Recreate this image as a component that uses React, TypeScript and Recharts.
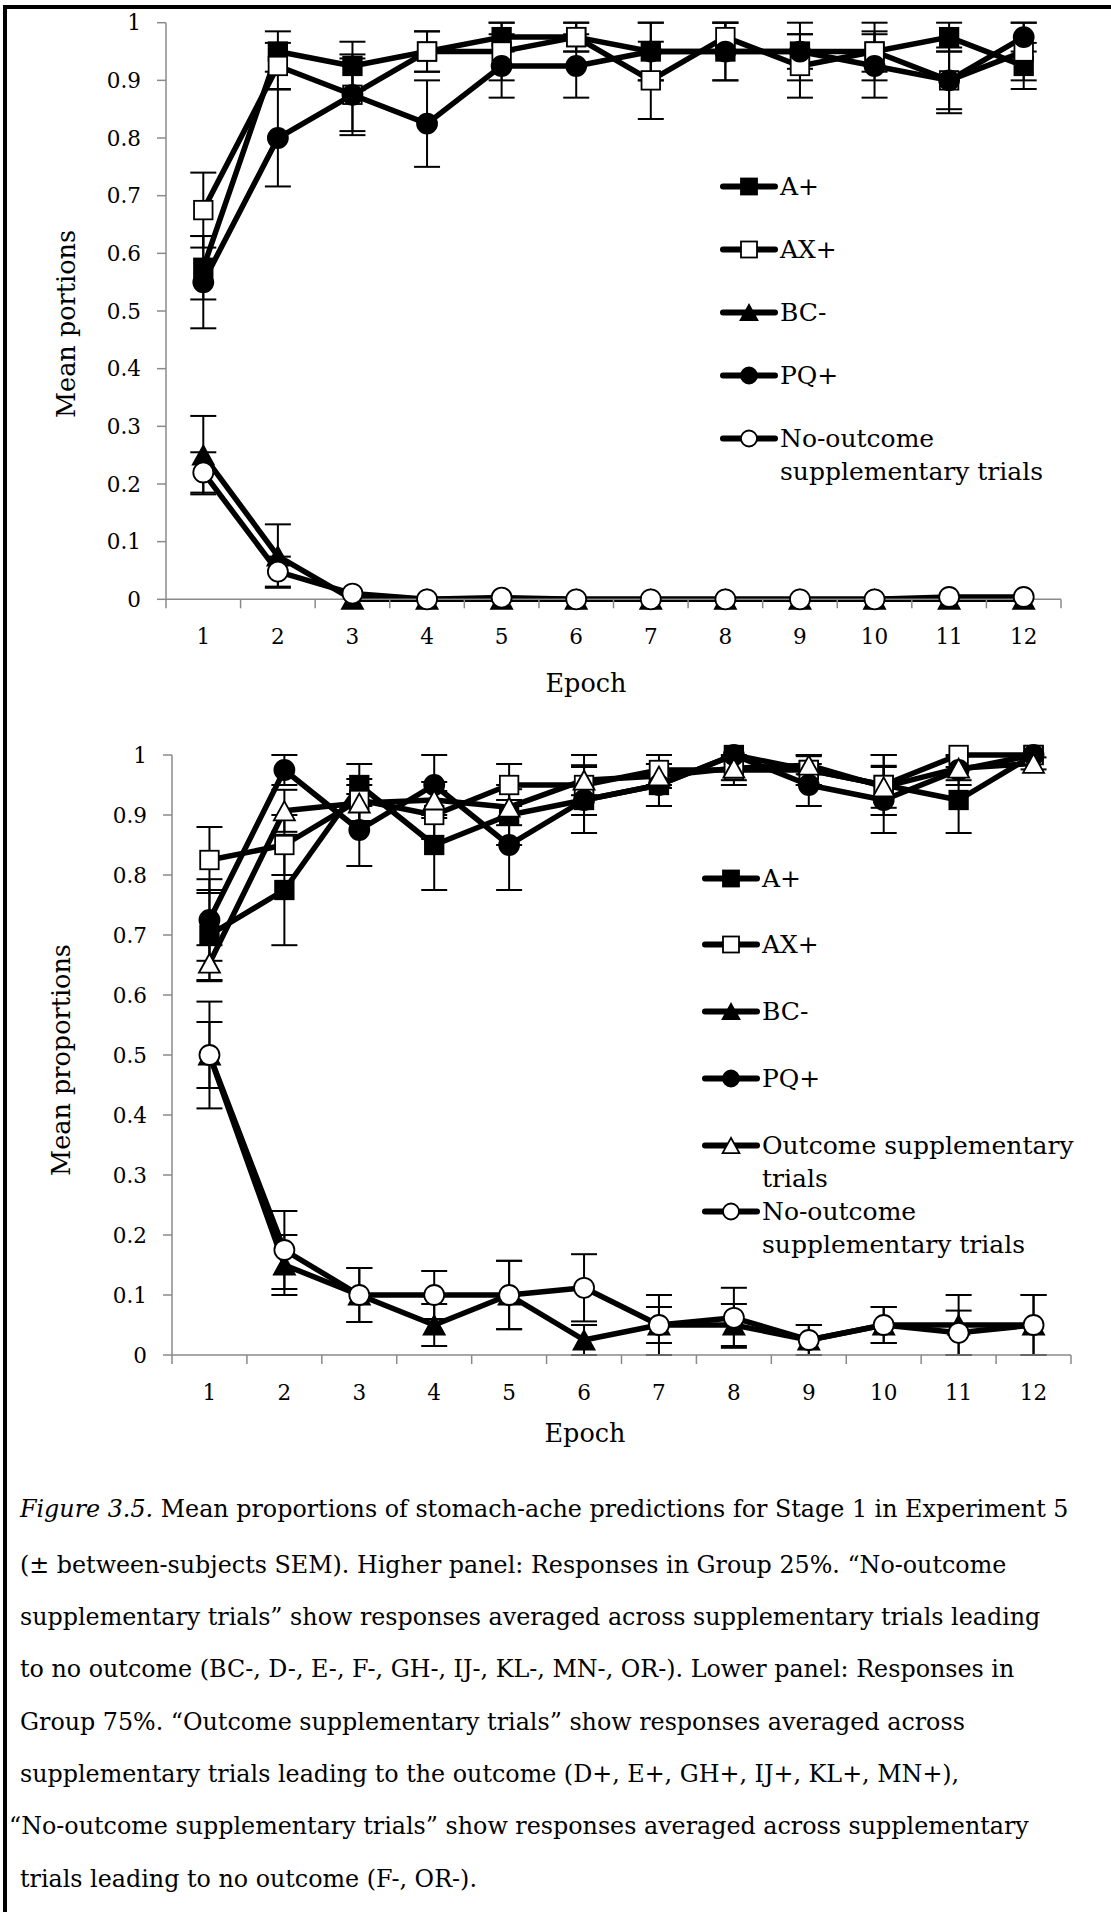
import React from 'react';
import { LineChart, Line, XAxis, YAxis, ErrorBar, Legend } from 'recharts';

const FONT = '"DejaVu Serif", serif';
const AXIS = '#8a8a8a';

const epochs = [1, 2, 3, 4, 5, 6, 7, 8, 9, 10, 11, 12];
const yTicks = [0, 0.1, 0.2, 0.3, 0.4, 0.5, 0.6, 0.7, 0.8, 0.9, 1];

// ---- Higher panel: Group 25% ----
const topAPlus = [0.575, 0.95, 0.925, 0.95, 0.975, 0.975, 0.95, 0.95, 0.95, 0.95, 0.975, 0.925];
const topAPlusErr = [0.055, 0.035, 0.042, 0.035, 0.025, 0.025, 0.05, 0.05, 0.05, 0.035, 0.025, 0.04];
const topAXPlus = [0.675, 0.925, 0.875, 0.95, 0.95, 0.975, 0.9, 0.975, 0.925, 0.95, 0.9, 0.95];
const topAXPlusErr = [0.065, 0.04, 0.07, 0.035, 0.05, 0.025, 0.067, 0.025, 0.055, 0.05, 0.05, 0.05];
const topBCMinus = [0.25, 0.075, 0, 0, 0, 0, 0, 0, 0, 0, 0, 0];
const topBCMinusErr = [0.068, 0.055, 0, 0, 0, 0, 0, 0, 0, 0, 0, 0];
const topPQPlus = [0.55, 0.8, 0.875, 0.825, 0.925, 0.925, 0.95, 0.95, 0.95, 0.925, 0.9, 0.975];
const topPQPlusErr = [0.08, 0.084, 0.063, 0.075, 0.055, 0.055, 0.05, 0.05, 0.03, 0.055, 0.057, 0.025];
const topNoOutcome = [0.22, 0.048, 0.01, 0, 0.003, 0, 0, 0, 0, 0, 0.004, 0.004];
const topNoOutcomeErr = [0.035, 0.026, 0, 0, 0, 0, 0, 0, 0, 0, 0, 0];

// ---- Lower panel: Group 75% ----
const botAPlus = [0.7, 0.775, 0.95, 0.85, 0.9, 0.925, 0.95, 1, 0.975, 0.95, 0.925, 1];
const botAPlusErr = [0.075, 0.092, 0.035, 0.075, 0.05, 0.055, 0.035, 0, 0.025, 0.05, 0.055, 0];
const botAXPlus = [0.825, 0.85, 0.925, 0.9, 0.95, 0.95, 0.975, 0.975, 0.975, 0.95, 1, 1];
const botAXPlusErr = [0.055, 0.05, 0.035, 0.04, 0.035, 0.05, 0.025, 0.025, 0.025, 0.05, 0, 0];
const botBCMinus = [0.5, 0.15, 0.1, 0.05, 0.1, 0.025, 0.05, 0.05, 0.025, 0.05, 0.05, 0.05];
const botBCMinusErr = [0.055, 0.05, 0.045, 0.035, 0.057, 0.025, 0.03, 0.035, 0.025, 0.03, 0.05, 0.05];
const botPQPlus = [0.725, 0.975, 0.875, 0.95, 0.85, 0.925, 0.95, 1, 0.95, 0.925, 0.975, 1];
const botPQPlusErr = [0.068, 0.025, 0.06, 0.05, 0.075, 0.055, 0.035, 0, 0.035, 0.055, 0.025, 0];
const botOutcome = [0.653, 0.907, 0.92, 0.925, 0.913, 0.958, 0.965, 0.978, 0.983, 0.947, 0.978, 0.986];
const botOutcomeErr = [0.03, 0.035, 0.03, 0.03, 0.03, 0.025, 0.02, 0.02, 0.015, 0.035, 0.02, 0.01];
const botNoOutcome = [0.5, 0.175, 0.1, 0.1, 0.1, 0.112, 0.05, 0.062, 0.025, 0.05, 0.037, 0.05];
const botNoOutcomeErr = [0.089, 0.065, 0.045, 0.04, 0.057, 0.056, 0.05, 0.05, 0.025, 0.03, 0.037, 0.05];

type Shape = 'square' | 'circle' | 'triangle';
interface SeriesDef {
  key: string;
  lines: string[];
  shape: Shape;
  filled: boolean;
  values: number[];
  errors: number[];
}

const topSeries: SeriesDef[] = [
  { key: 'aPlus', lines: ['A+'], shape: 'square', filled: true, values: topAPlus, errors: topAPlusErr },
  { key: 'axPlus', lines: ['AX+'], shape: 'square', filled: false, values: topAXPlus, errors: topAXPlusErr },
  { key: 'bcMinus', lines: ['BC-'], shape: 'triangle', filled: true, values: topBCMinus, errors: topBCMinusErr },
  { key: 'pqPlus', lines: ['PQ+'], shape: 'circle', filled: true, values: topPQPlus, errors: topPQPlusErr },
  { key: 'noOutcome', lines: ['No-outcome', 'supplementary trials'], shape: 'circle', filled: false, values: topNoOutcome, errors: topNoOutcomeErr },
];

const botSeries: SeriesDef[] = [
  { key: 'aPlus', lines: ['A+'], shape: 'square', filled: true, values: botAPlus, errors: botAPlusErr },
  { key: 'axPlus', lines: ['AX+'], shape: 'square', filled: false, values: botAXPlus, errors: botAXPlusErr },
  { key: 'bcMinus', lines: ['BC-'], shape: 'triangle', filled: true, values: botBCMinus, errors: botBCMinusErr },
  { key: 'pqPlus', lines: ['PQ+'], shape: 'circle', filled: true, values: botPQPlus, errors: botPQPlusErr },
  { key: 'outcome', lines: ['Outcome supplementary', 'trials'], shape: 'triangle', filled: false, values: botOutcome, errors: botOutcomeErr },
  { key: 'noOutcome', lines: ['No-outcome', 'supplementary trials'], shape: 'circle', filled: false, values: botNoOutcome, errors: botNoOutcomeErr },
];

const captionLines: { text: React.ReactNode; indent: number }[] = [
  { text: <><i>Figure 3.5.</i> Mean proportions of stomach-ache predictions for Stage 1 in Experiment 5</>, indent: 20 },
  { text: '(± between-subjects SEM). Higher panel: Responses in Group 25%. “No-outcome', indent: 20 },
  { text: 'supplementary trials” show responses averaged across supplementary trials leading', indent: 20 },
  { text: 'to no outcome (BC-, D-, E-, F-, GH-, IJ-, KL-, MN-, OR-). Lower panel: Responses in', indent: 20 },
  { text: 'Group 75%. “Outcome supplementary trials” show responses averaged across', indent: 20 },
  { text: 'supplementary trials leading to the outcome (D+, E+, GH+, IJ+, KL+, MN+),', indent: 20 },
  { text: '“No-outcome supplementary trials” show responses averaged across supplementary', indent: 9 },
  { text: 'trials leading to no outcome (F-, OR-).', indent: 20 },
];
const captionCenters = [1509, 1565, 1617, 1669, 1722, 1774, 1826, 1879];

function buildRows(series: SeriesDef[]) {
  return epochs.map((e, i) => {
    const row: Record<string, number> = { epoch: e };
    series.forEach((s) => {
      row[s.key] = s.values[i];
      row[s.key + 'Err'] = s.errors[i];
    });
    return row;
  });
}

function Marker({ cx, cy, shape, filled, size }: { cx: number; cy: number; shape: Shape; filled: boolean; size: number }) {
  const fill = filled ? '#000' : '#fff';
  const sw = 1.8;
  if (shape === 'square') {
    return <rect x={cx - size / 2} y={cy - size / 2} width={size} height={size} fill={fill} stroke="#000" strokeWidth={sw} />;
  }
  if (shape === 'circle') {
    return <circle cx={cx} cy={cy} r={size / 2} fill={fill} stroke="#000" strokeWidth={sw} />;
  }
  const w = size * 1.05;
  const h = size * 0.95;
  const pts = `${cx},${cy - h / 2} ${cx - w / 2},${cy + h / 2} ${cx + w / 2},${cy + h / 2}`;
  return <polygon points={pts} fill={fill} stroke="#000" strokeWidth={sw} strokeLinejoin="miter" />;
}

function RotLabel({ cx, cy, text, size }: { cx: number; cy: number; text: string; size: number }) {
  return (
    <text x={cx} y={cy} transform={`rotate(-90 ${cx} ${cy})`} textAnchor="middle" dominantBaseline="central"
      fontFamily={FONT} fontSize={size} fill="#000">
      {text}
    </text>
  );
}

function PlainLabel({ cx, cy, text, size }: { cx: number; cy: number; text: string; size: number }) {
  return (
    <text x={cx} y={cy} textAnchor="middle" dominantBaseline="central" fontFamily={FONT} fontSize={size} fill="#000">
      {text}
    </text>
  );
}

function LegendBox({ series, rowH, markerSize }: { series: SeriesDef[]; rowH: number; markerSize: number }) {
  const lineH = 33;
  return (
    <div style={{ fontFamily: FONT, fontSize: 25, color: '#000' }}>
      {series.map((s) => (
        <div key={s.key} style={{ position: 'relative', height: rowH, whiteSpace: 'nowrap' }}>
          <svg width={60} height={lineH} style={{ position: 'absolute', left: 0, top: 0 }}>
            <line x1={4} x2={56} y1={lineH / 2} y2={lineH / 2} stroke="#000" strokeWidth={6} strokeLinecap="round" />
            <Marker cx={30} cy={lineH / 2} shape={s.shape} filled={s.filled} size={markerSize} />
          </svg>
          <div style={{ position: 'absolute', left: 61, top: 0, lineHeight: `${lineH}px` }}>
            {s.lines.map((l, i) => (
              <div key={i}>{l}</div>
            ))}
          </div>
        </div>
      ))}
    </div>
  );
}

interface PanelProps {
  series: SeriesDef[];
  top: number;
  width: number;
  height: number;
  marginTop: number;
  marginRight: number;
  yAxisWidth: number;
  xAxisHeight: number;
  yLabel: string;
  yLabelPos: [number, number];
  xLabelPos: [number, number];
  legendPos: [number, number];
  legendRowH: number;
}

function Panel(p: PanelProps) {
  const data = buildRows(p.series);
  const plotBottom = p.height - p.xAxisHeight;
  const plotWidth = p.width - p.marginRight - p.yAxisWidth;
  const band = plotWidth / epochs.length;
  const lastEpoch = epochs[epochs.length - 1];

  const XTick = (props: any) => {
    const { x, payload } = props;
    return (
      <g>
        <line x1={x - band / 2} x2={x - band / 2} y1={plotBottom} y2={plotBottom + 9} stroke={AXIS} strokeWidth={1.5} />
        {payload.value === lastEpoch && (
          <line x1={x + band / 2} x2={x + band / 2} y1={plotBottom} y2={plotBottom + 9} stroke={AXIS} strokeWidth={1.5} />
        )}
        <text x={x} y={plotBottom + 37} textAnchor="middle" dominantBaseline="central" fontFamily={FONT} fontSize={21.5} fill="#000">
          {payload.value}
        </text>
      </g>
    );
  };

  return (
    <div style={{ position: 'absolute', left: 0, top: p.top, width: p.width, height: p.height }}>
      <LineChart width={p.width} height={p.height} data={data}
        margin={{ top: p.marginTop, right: p.marginRight, bottom: 0, left: 0 }}>
        <XAxis dataKey="epoch" type="number" domain={[0.5, 12.5]} ticks={epochs} interval={0}
          height={p.xAxisHeight} tickLine={false} axisLine={{ stroke: AXIS, strokeWidth: 1.5 }}
          tick={XTick}
          label={<PlainLabel cx={p.xLabelPos[0]} cy={p.xLabelPos[1]} text="Epoch" size={25.5} />} />
        <YAxis type="number" domain={[0, 1]} ticks={yTicks} interval={0} width={p.yAxisWidth}
          tickSize={9} tickMargin={16}
          tickLine={{ stroke: AXIS, strokeWidth: 1.5 }} axisLine={{ stroke: AXIS, strokeWidth: 1.5 }}
          tick={{ fill: '#000', fontSize: 21.5, fontFamily: FONT }}
          tickFormatter={(v: number) => String(v)}
          label={<RotLabel cx={p.yLabelPos[0]} cy={p.yLabelPos[1]} text={p.yLabel} size={25.5} />} />
        <Legend layout="vertical" align="center" verticalAlign="middle"
          wrapperStyle={{ left: p.legendPos[0], top: p.legendPos[1], width: 420 }}
          content={() => <LegendBox series={p.series} rowH={p.legendRowH} markerSize={16} />} />
        {p.series.map((s) => (
          <Line key={s.key} type="linear" dataKey={s.key} stroke="#000" strokeWidth={5.5}
            strokeLinejoin="round" isAnimationActive={false} activeDot={false} legendType="none"
            dot={(dp: any) => (
              <Marker key={`${s.key}-${dp.index}`} cx={dp.cx} cy={dp.cy} shape={s.shape} filled={s.filled}
                size={s.shape === 'square' ? 18.5 : 20} />
            )}>
            <ErrorBar dataKey={s.key + 'Err'} width={13} strokeWidth={2} stroke="#000" direction="y" />
          </Line>
        ))}
      </LineChart>
    </div>
  );
}

export default function App() {
  return (
    <div style={{ position: 'absolute', left: 0, top: 0, width: 1111, height: 1912, background: '#fff', overflow: 'hidden' }}>
      <div style={{ position: 'absolute', left: 3, top: 5, width: 1108, height: 1907, borderLeft: '4px solid #000', borderTop: '4px solid #000', boxSizing: 'border-box' }} />
      <Panel series={topSeries} top={0} width={1111} height={720} marginTop={22.7} marginRight={50}
        yAxisWidth={166} xAxisHeight={120.7} yLabel="Mean portions" yLabelPos={[66, 324]}
        xLabelPos={[586, 683]} legendPos={[719, 169.5]} legendRowH={63.1} />
      <Panel series={botSeries} top={720} width={1111} height={740} marginTop={35} marginRight={40}
        yAxisWidth={172} xAxisHeight={105} yLabel="Mean proportions" yLabelPos={[61, 340]}
        xLabelPos={[585, 713]} legendPos={[701, 141.8]} legendRowH={66.7} />
      {captionLines.map((c, i) => (
        <div key={i} style={{ position: 'absolute', left: c.indent, top: captionCenters[i] - 20, height: 40, lineHeight: '40px',
          fontFamily: FONT, fontSize: 23.8, color: '#000', whiteSpace: 'nowrap' }}>
          {c.text}
        </div>
      ))}
    </div>
  );
}
